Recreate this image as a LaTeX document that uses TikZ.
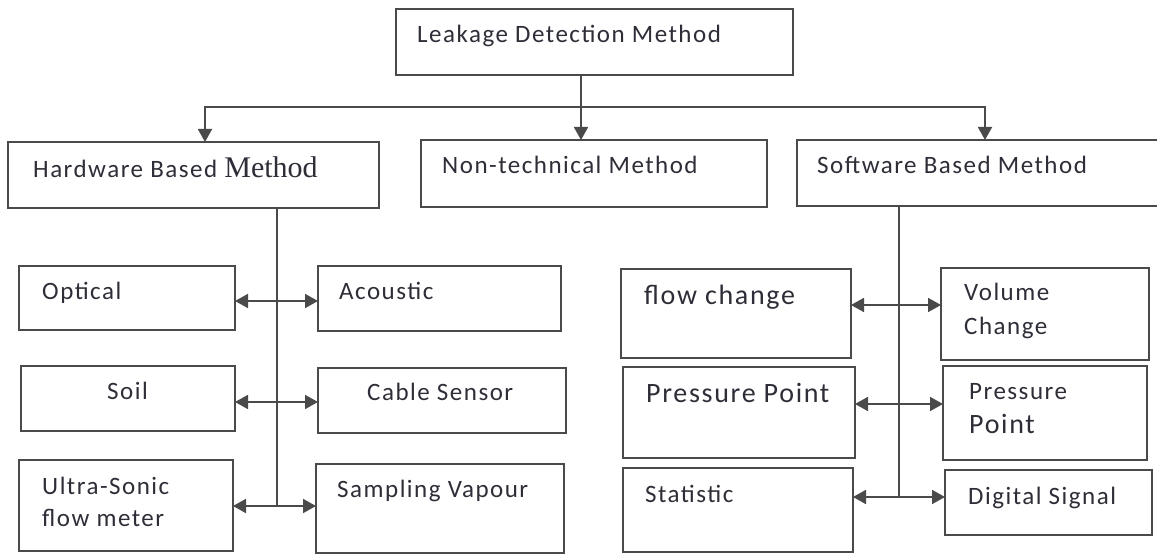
\documentclass[tikz,border=0pt]{standalone}
\usepackage{fontspec}
\setmainfont{Carlito}[LetterSpace=6]
\newfontfamily\timesfont{Liberation Serif}
\usetikzlibrary{arrows.meta,fit}

\definecolor{edge}{HTML}{4A4A4A}
\definecolor{ink}{HTML}{2E2E38}

\tikzset{
  box/.style={draw=edge, line width=1.8pt, fill=white, inner sep=0pt, outer sep=0pt},
  lbl/.style={anchor=base west, inner sep=0pt, text=ink, font=\fontsize{25}{30}\selectfont},
  biglbl/.style={lbl, font=\fontsize{28}{33}\selectfont},
  wire/.style={draw=edge, line width=1.8pt},
  tip/.style={Triangle[length=13pt,width=14pt]},
  arrowline/.style={wire, -{Triangle[length=13pt,width=14pt]}},
  biarrow/.style={wire, {Triangle[length=13pt,width=14pt]}-{Triangle[length=13pt,width=14pt]}},
}

\begin{document}
\begin{tikzpicture}[x=1pt, y=-1pt]
\clip (0,0) rectangle (1157,556);
\fill[white] (0,0) rectangle (1157,556);

% top level
\node[box, fit={(396,9) (793,75)}] (top) {};
\node[box, fit={(8,142) (379,208)}] (hw) {};
\node[box, fit={(421,140) (767,207)}] (nt) {};
\node[box, fit={(797,140) (1175,206)}] (sw) {};

% hardware branch
\node[box, fit={(19,266) (235,330)}] (opt) {};
\node[box, fit={(318,266) (561,331)}] (aco) {};
\node[box, fit={(21,366) (235,431)}] (soil) {};
\node[box, fit={(318,368) (566,433)}] (cab) {};
\node[box, fit={(19,460) (233,551)}] (ultra) {};
\node[box, fit={(316,464) (564,553)}] (samp) {};

% software branch
\node[box, fit={(621,269) (851,358)}] (flow) {};
\node[box, fit={(941,268) (1149,360)}] (vol) {};
\node[box, fit={(623,367) (855,458)}] (pp) {};
\node[box, fit={(943,366) (1147,460)}] (pq) {};
\node[box, fit={(623,468) (853,552)}] (stat) {};
\node[box, fit={(945,470) (1152,535)}] (dig) {};

% labels (anchored on their baselines)
\node[lbl] (t-top) at (417,43) {Leakage Detection Method};
\node[lbl] (t-hw) at (33,178) {Hardware Based {\timesfont\fontsize{30}{34}\selectfont Method}};
\node[lbl] (t-nt) at (442,174) {Non-technical Method};
\node[lbl] (t-sw) at (817,174) {Software Based Method};
\node[lbl] (t-opt) at (42,299) {Optical};
\node[lbl] (t-aco) at (339,299) {Acoustic};
\node[lbl] (t-soil) at (107,399) {Soil};
\node[lbl] (t-cab) at (367,400) {Cable Sensor};
\node[lbl] (t-ul1) at (42,494) {Ultra-Sonic};
\node[lbl] (t-ul2) at (42,526) {flow meter};
\node[lbl] (t-samp) at (337,497) {Sampling Vapour};
\node[biglbl] (t-flow) at (644,305) {flow change};
\node[lbl] (t-vol1) at (964,301) {Volume};
\node[lbl] (t-vol2) at (964,334) {Change};
\node[biglbl] (t-pp) at (646,402) {Pressure Point};
\node[lbl] (t-pq1) at (969,399) {Pressure};
\node[biglbl] (t-pq2) at (969,433) {Point};
\node[lbl] (t-stat) at (645,502) {Statistic};
\node[lbl] (t-dig) at (968,504) {Digital Signal};

% branching from the root
\coordinate (hub) at (581,107);
\coordinate (hl) at (205,107);
\coordinate (hr) at (985,107);
\draw[arrowline] (top.south -| hub) -- (nt.north -| hub);
\draw[arrowline] (hub) -- (hl) -- (hw.north -| hl);
\draw[arrowline] (hub) -- (hr) -- (sw.north -| hr);

% hardware spine and its pairs
\coordinate (hv) at (277,506);
\coordinate (ha1) at (277,301);
\coordinate (ha2) at (277,402);
\draw[wire] (hw.south -| hv) -- (hv);
\draw[biarrow] (opt.east |- ha1) -- (aco.west |- ha1);
\draw[biarrow] (soil.east |- ha2) -- (cab.west |- ha2);
\draw[biarrow] (ultra.east |- hv) -- (samp.west |- hv);

% software spine and its pairs
\coordinate (sk) at (969,206);
\coordinate (sv) at (899,497);
\coordinate (sa1) at (899,305);
\coordinate (sa2) at (899,404);
\draw[wire] (sw.south -| sk) -- (sw.south -| sv) -- (sv);
\draw[biarrow] (flow.east |- sa1) -- (vol.west |- sa1);
\draw[biarrow] (pp.east |- sa2) -- (pq.west |- sa2);
\draw[biarrow] (stat.east |- sv) -- (dig.west |- sv);
\end{tikzpicture}
\end{document}
